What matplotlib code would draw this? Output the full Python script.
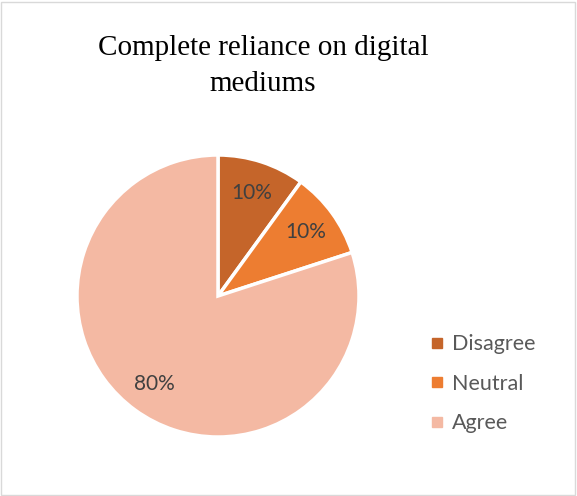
import matplotlib
matplotlib.use("Agg")
from matplotlib import pyplot as plt
from matplotlib.lines import Line2D
from matplotlib.patches import Rectangle

categories = ["Disagree", "Neutral", "Agree"]
shares = [10, 10, 80]
colors = ["#C5652A", "#ED7D31", "#F4B9A3"]
title = "Complete reliance on digital\nmediums"

W, H = 577, 496
fig = plt.figure(figsize=(W / 100, H / 100), dpi=100)

# light frame round the whole chart
fig.patches.append(Rectangle((1 / W, 1 / H), 1 - 3 / W, 1 - 3 / H, transform=fig.transFigure,
                             fill=False, edgecolor="#D9D9D9", linewidth=1.0))

fig.text(263 / W, 1 - 66 / H, title, ha="center", va="center",
         family="Liberation Serif", fontsize=21, color="#000000", linespacing=1.48)

# pie centred at (218, 296) px with radius 141 px
cx, cy, r = 218, 296, 141
ax = fig.add_axes([(cx - r) / W, (H - cy - r) / H, 2 * r / W, 2 * r / H])
wedges, texts, autotexts = ax.pie(
    shares, colors=colors, startangle=90, counterclock=False,
    autopct=lambda p: "%d%%" % round(p), pctdistance=0.77,
    wedgeprops=dict(edgecolor="white", linewidth=2.5),
    textprops=dict(family="Lato", fontsize=15, color="#404040"))
ax.set_aspect("equal")
ax.set_xlim(-1, 1)
ax.set_ylim(-1, 1)

handles = [Line2D([], [], linestyle="none", marker="s", markersize=7,
                  markerfacecolor=c, markeredgecolor=c) for c in colors]
fig.legend(handles, categories, loc="upper left", bbox_to_anchor=(407 / W, 1 - 315 / H),
           frameon=False, handletextpad=0.2, labelspacing=0.9, handlelength=1.0,
           prop=dict(family="Lato", size=15.5), labelcolor="#595959")

fig.savefig("out.png", dpi=100)
